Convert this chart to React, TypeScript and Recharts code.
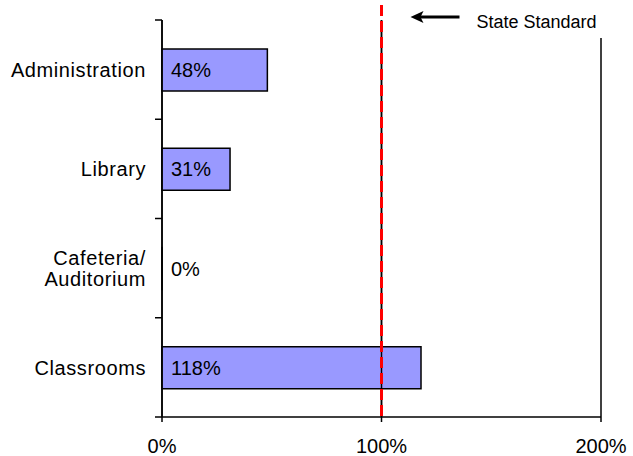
import React from 'react';
import { BarChart, Bar, XAxis, YAxis, CartesianGrid, ReferenceLine, LabelList } from 'recharts';

const CATEGORIES = ['Administration', 'Library', 'Cafeteria/\nAuditorium', 'Classrooms'];
const VALUES = [48, 31, 0, 118];
const X_TICKS = [0, 100, 200];
const STANDARD = 100;
const STANDARD_LABEL = 'State Standard';

const data = CATEGORIES.map((name, i) => ({ name, value: VALUES[i] }));

const W = 633;
const H = 456;
const MARGIN = { top: 20, right: 32, left: 0, bottom: 0 };
const Y_W = 162;
const X_H = 39;
const PLOT_H = H - MARGIN.top - MARGIN.bottom - X_H;
const FONT = '"Liberation Sans", Arial, sans-serif';
const TICK_SIZE = 7;
const TICK_MARGIN = 9;

const CategoryTick = (props: any) => {
  const { x, y, payload, index, visibleTicksCount, height } = props;
  const lines = String(payload.value).split('\n');
  const n = visibleTicksCount || CATEGORIES.length;
  const h = typeof height === 'number' && height > 0 ? height : PLOT_H;
  const half = h / n / 2;
  const axisX = x + TICK_SIZE + TICK_MARGIN;
  const lh = 21;
  const startDy = -((lines.length - 1) * lh) / 2;
  return (
    <g>
      <line x1={axisX - TICK_SIZE} x2={axisX} y1={y - half} y2={y - half} stroke="#000" strokeWidth={1.5} />
      {index === n - 1 && (
        <line x1={axisX - TICK_SIZE} x2={axisX} y1={y + half} y2={y + half} stroke="#000" strokeWidth={1.5} />
      )}
      <text x={x} y={y + startDy} textAnchor="end" fontSize={20} fontFamily={FONT} fill="#000" letterSpacing={0.6}>
        {lines.map((l, i) => (
          <tspan key={i} x={x} dy={i === 0 ? '0.36em' : lh}>
            {l}
          </tspan>
        ))}
      </text>
    </g>
  );
};

const BarValueLabel = (props: any) => {
  const { x, y, height, value } = props;
  if (x == null || y == null) return null;
  return (
    <text x={Number(x) + 9} y={Number(y) + Number(height) / 2} dy="0.36em" fontSize={20} fontFamily={FONT} fill="#000">
      {`${value}%`}
    </text>
  );
};

const StandardMarker = (props: any) => {
  const vb = props.viewBox || {};
  const x = vb.x;
  const top = vb.y;
  const bottom = vb.y + vb.height;
  const ay = top - 3;
  return (
    <g>
      <rect x={x + 88} y={top - 20} width={137} height={38} fill="#fff" />
      <line x1={x} x2={x} y1={top - 15} y2={bottom} stroke="#FF0000" strokeWidth={3} strokeDasharray="11 5" />
      <line x1={x + 38} x2={x + 78} y1={ay} y2={ay} stroke="#000" strokeWidth={3} />
      <polygon
        points={`${x + 29},${ay} ${x + 42},${ay - 6} ${x + 39},${ay} ${x + 42},${ay + 6}`}
        fill="#000"
      />
      <text x={x + 95} y={top + 8} fontSize={18} fontFamily={FONT} fill="#000">
        {STANDARD_LABEL}
      </text>
    </g>
  );
};

export default function App() {
  return (
    <div style={{ position: 'absolute', left: 0, top: 0, width: W, height: H, background: '#fff' }}>
      <BarChart width={W} height={H} data={data} layout="vertical" margin={MARGIN}>
        <CartesianGrid horizontal={false} vertical stroke="#000" strokeWidth={1.5} />
        <XAxis
          type="number"
          domain={[0, 200]}
          ticks={X_TICKS}
          tickFormatter={(v: number) => `${v}%`}
          height={X_H}
          tickSize={5}
          tickMargin={17}
          axisLine={{ stroke: '#000', strokeWidth: 1.5 }}
          tickLine={{ stroke: '#000', strokeWidth: 1.5 }}
          tick={{ fill: '#000', fontSize: 20, fontFamily: FONT }}
          interval={0}
        />
        <YAxis
          type="category"
          dataKey="name"
          width={Y_W}
          tickSize={TICK_SIZE}
          tickMargin={TICK_MARGIN}
          tickLine={false}
          axisLine={{ stroke: '#000', strokeWidth: 1.5 }}
          tick={<CategoryTick />}
          interval={0}
        />
        <Bar
          dataKey="value"
          fill="#9999FF"
          stroke="#000"
          strokeWidth={1.5}
          barSize={42}
          minPointSize={0.01}
          isAnimationActive={false}
        >
          <LabelList dataKey="value" content={<BarValueLabel />} />
        </Bar>
        <ReferenceLine x={STANDARD} stroke="#000" strokeWidth={1.5} label={<StandardMarker />} />
      </BarChart>
    </div>
  );
}
